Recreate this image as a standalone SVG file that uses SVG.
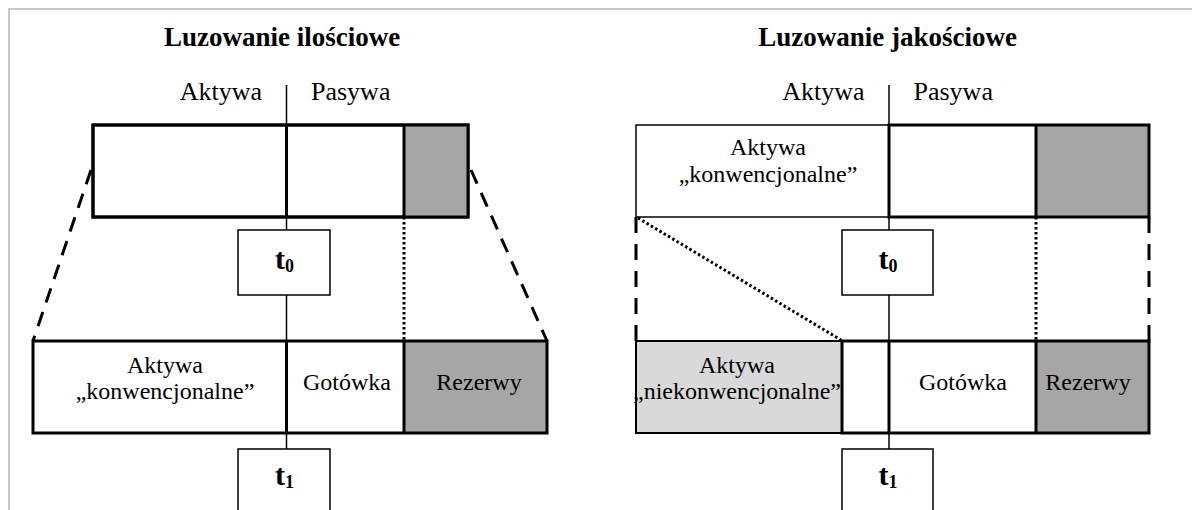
<svg xmlns="http://www.w3.org/2000/svg" width="1192" height="510" viewBox="0 0 1192 510" font-family="'Liberation Serif', 'Times New Roman', 'DejaVu Serif', serif">
<style>
text{font-family:'Liberation Serif','Times New Roman','DejaVu Serif',serif;fill:#000}
.title{font-size:27px;font-weight:bold;text-anchor:middle}
.hdr{font-size:26px}
.cell{font-size:24px;text-anchor:middle}
.t{font-size:30px;font-weight:bold;text-anchor:middle}
.sub{font-size:18px}
.thick{stroke:#000;stroke-width:3}
.thin{stroke:#000;stroke-width:1.5}
.dash{stroke:#000;stroke-width:3;stroke-dasharray:15 10;fill:none}
.dot{stroke:#000;stroke-width:3;stroke-dasharray:2.5 2.5;fill:none}
.dark{fill:#a6a6a6}
.light{fill:#d9d9d9}
.white{fill:#fff}
</style>
<rect x="0" y="0" width="1192" height="510" fill="#fff"/>
<rect x="9" y="9" width="1200" height="520" fill="none" stroke="#c8c8c8" stroke-width="2"/>

<g id="connectors">
  <line class="thin" x1="286.5" y1="85" x2="286.5" y2="449"/>
  <line class="thin" x1="889" y1="85" x2="889" y2="449"/>
  <line class="dash" x1="91" y1="170" x2="33" y2="341"/>
  <line class="dash" x1="471" y1="170" x2="547" y2="341"/>
  <line class="dot" x1="404" y1="217" x2="404" y2="341"/>
  <line class="dash" x1="636" y1="217" x2="636" y2="341" style="stroke-dasharray:16 11"/>
  <line class="dash" x1="1149" y1="217" x2="1149" y2="341" style="stroke-dasharray:16 11"/>
  <line class="dot" x1="1036" y1="217" x2="1036" y2="341"/>
  <line class="dot" x1="638" y1="218" x2="841" y2="340"/>
</g>

<g id="left-title"><text class="title" x="282" y="46">Luzowanie ilościowe</text></g>
<g id="left-header">
  <text class="hdr" x="262" y="100" text-anchor="end">Aktywa</text>
  <text class="hdr" x="311" y="100">Pasywa</text>
</g>
<g id="left-top-box">
  <rect class="white thick" x="93" y="125" width="375" height="92"/>
  <rect class="dark" x="404" y="125" width="64" height="92"/>
  <rect fill="none" class="thick" x="93" y="125" width="375" height="92"/>
  <line class="thick" x1="286.5" y1="125" x2="286.5" y2="217"/>
  <line class="thick" x1="404" y1="125" x2="404" y2="217"/>
</g>
<g id="left-t0">
  <rect class="white thin" x="238" y="230" width="92" height="65"/>
  <text class="t" x="284.5" y="269">t<tspan class="sub" dy="3">0</tspan></text>
</g>
<g id="left-bottom-box">
  <rect class="white" x="33" y="341" width="514" height="92"/>
  <rect class="dark" x="404" y="341" width="143" height="92"/>
  <rect fill="none" class="thick" x="33" y="341" width="514" height="92"/>
  <line class="thick" x1="286.5" y1="341" x2="286.5" y2="433"/>
  <line class="thick" x1="404" y1="341" x2="404" y2="433"/>
  <text class="cell" x="165" y="373">Aktywa</text>
  <text class="cell" x="165" y="399">„konwencjonalne”</text>
  <text class="cell" x="347" y="390">Gotówka</text>
  <text class="cell" x="479" y="390">Rezerwy</text>
</g>
<g id="left-t1">
  <rect class="white thin" x="238" y="449" width="92" height="70"/>
  <text class="t" x="284.5" y="485">t<tspan class="sub" dy="3">1</tspan></text>
</g>

<g id="right-title"><text class="title" x="887.5" y="46">Luzowanie jakościowe</text></g>
<g id="right-header">
  <text class="hdr" x="864.5" y="100" text-anchor="end">Aktywa</text>
  <text class="hdr" x="913.5" y="100">Pasywa</text>
</g>
<g id="right-top-box">
  <rect class="white thin" x="636" y="125" width="253" height="92"/>
  <text class="cell" x="768" y="155">Aktywa</text>
  <text class="cell" x="768" y="182">„konwencjonalne”</text>
  <rect class="white" x="889" y="125" width="260" height="92"/>
  <rect class="dark" x="1036" y="125" width="113" height="92"/>
  <rect fill="none" class="thick" x="889" y="125" width="260" height="92"/>
  <line class="thick" x1="1036" y1="125" x2="1036" y2="217"/>
</g>
<g id="right-t0">
  <rect class="white thin" x="842" y="230" width="91" height="65"/>
  <text class="t" x="888" y="269">t<tspan class="sub" dy="3">0</tspan></text>
</g>
<g id="right-bottom-box">
  <rect class="light" x="636" y="341" width="206" height="92" stroke="#000" stroke-width="2"/>
  <text class="cell" x="737" y="373">Aktywa</text>
  <text class="cell" x="737" y="399">„niekonwencjonalne”</text>
  <rect class="white" x="842" y="341" width="307" height="92"/>
  <rect class="dark" x="1036" y="341" width="113" height="92"/>
  <rect fill="none" class="thick" x="842" y="341" width="307" height="92"/>
  <line class="thick" x1="889" y1="341" x2="889" y2="433"/>
  <line class="thick" x1="1036" y1="341" x2="1036" y2="433"/>
  <text class="cell" x="963" y="390">Gotówka</text>
  <text class="cell" x="1088" y="390">Rezerwy</text>
</g>
<g id="right-t1">
  <rect class="white thin" x="842" y="449" width="91" height="70"/>
  <text class="t" x="888" y="485">t<tspan class="sub" dy="3">1</tspan></text>
</g>
</svg>
